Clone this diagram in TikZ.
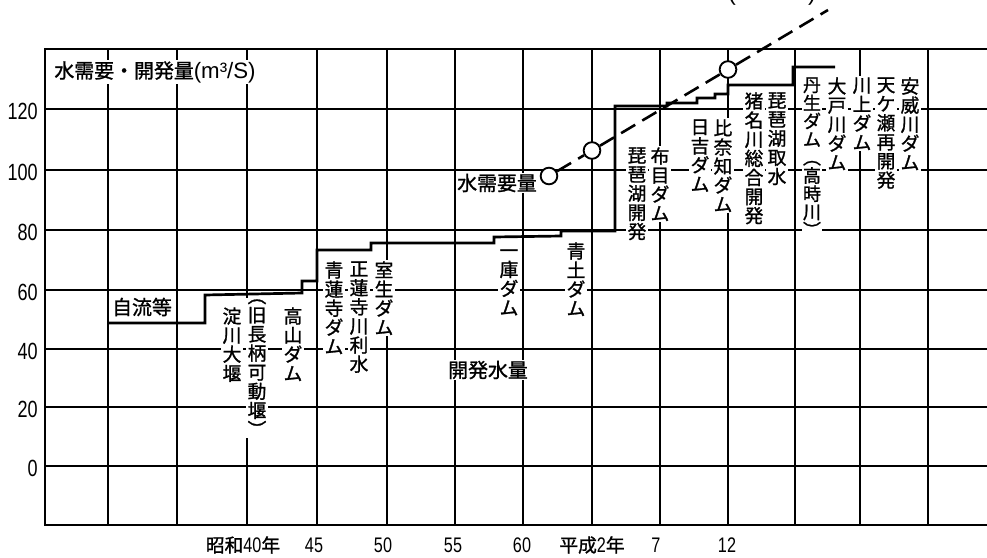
\documentclass[tikz,border=0pt]{standalone}
\usepackage{fontspec}
\setmainfont{Liberation Sans}
\newfontfamily\jp[FakeBold=1.2]{Noto Sans CJK JP}
\newfontfamily\num[FakeStretch=0.77]{Liberation Sans}
\begin{document}
\begin{tikzpicture}[x=0.03cm,y=-0.03cm,
  gridline/.style={line width=1.5pt},
  stepline/.style={line width=2.3pt, line join=miter},
  demand/.style={line width=2.2pt, dash pattern=on 14pt off 7pt},
  dot/.style={circle, draw, fill=white, line width=1.6pt, inner sep=0pt, minimum size=0.5cm},
  vlab/.style={anchor=north, align=center, fill=white, inner sep=1pt, font=\jp\fontsize{16pt}{16.3pt}\selectfont},
  hlab/.style={fill=white, inner sep=1pt, font=\jp\fontsize{17pt}{19pt}\selectfont},
  ylab/.style={anchor=east, inner sep=0pt, font=\num\fontsize{20pt}{22pt}\selectfont},
  xlab/.style={inner sep=0pt, font=\num\fontsize{18pt}{20pt}\selectfont},
  xjp/.style={inner sep=0pt, font=\jp\fontsize{16pt}{18pt}\selectfont}]
\useasboundingbox (0,0) rectangle (987,557);
\fill[white] (0,0) rectangle (987,557);
% frame and grid
\draw[gridline] (987,49) -- (45,49) -- (45,525) -- (987,525);
\foreach \y in {109,170,230,290,349,407,466} \draw[gridline] (45,\y) -- (987,\y);
\foreach \x in {108,177,247,317,387,455,523,592,660,728,795,860,928} \draw[gridline] (\x,49) -- (\x,525);
% y labels
\node[ylab] (y120) at (38,111) {120};
\node[ylab] (y100) at (38,172) {100};
\node[ylab] (y80) at (38,232) {80};
\node[ylab] (y60) at (38,292) {60};
\node[ylab] (y40) at (38,351) {40};
\node[ylab] (y20) at (38,409) {20};
\node[ylab] (y0) at (38,468) {0};
% x labels
\node[xjp] (xs40) at (243,545) {昭和{\num\fontsize{18pt}{20pt}\selectfont 40}年};
\node[xlab] (x45) at (314,545) {45};
\node[xlab] (x50) at (383,545) {50};
\node[xlab] (x55) at (453,545) {55};
\node[xlab] (x60) at (522,545) {60};
\node[xjp] (xh2) at (592,545) {平成{\num\fontsize{18pt}{20pt}\selectfont 2}年};
\node[xlab] (x7) at (656,545) {7};
\node[xlab] (x12) at (727,545) {12};
% partial label at the top edge
\node[anchor=base, inner sep=0pt, font=\fontsize{20pt}{22pt}\selectfont] (pl) at (732,0) {(};
\node[anchor=base, inner sep=0pt, font=\fontsize{20pt}{22pt}\selectfont] (pr) at (812,0) {)};
% horizontal labels
\node[hlab, anchor=west] (title) at (53,72) {水需要・開発量{\rmfamily\fontsize{19pt}{20pt}\selectfont (m³/S)}};
\node[hlab] (jiryu) at (142,307) {自流等};
\node[hlab] (juyo) at (497,183) {水需要量};
\node[hlab] (kaihatsu) at (488,370) {開発水量};
% vertical labels
\node[vlab] (yodo) at (232,306) {淀\\川\\大\\堰};
\node[vlab] (nagara) at (257,298) {︵\\旧\\長\\柄\\可\\動\\堰\\︶};
\node[vlab] (takayama) at (293,306) {高\\山\\ダ\\ム};
\node[vlab] (shorenji) at (334,260) {青\\蓮\\寺\\ダ\\ム};
\node[vlab] (shorenjigawa) at (359,260) {正\\蓮\\寺\\川\\利\\水};
\node[vlab] (muro) at (384,260) {室\\生\\ダ\\ム};
\node[vlab] (hitokura) at (509,248) {一\\庫\\ダ\\ム};
\node[vlab] (shodo) at (576,241) {青\\土\\ダ\\ム};
\node[vlab] (biwa1) at (637,146) {琵\\琶\\湖\\開\\発};
\node[vlab] (nunome) at (660,146) {布\\目\\ダ\\ム};
\node[vlab] (hiyoshi) at (700,118) {日\\吉\\ダ\\ム};
\node[vlab] (hinachi) at (723,118) {比\\奈\\知\\ダ\\ム};
\node[vlab] (inagawa) at (754,91) {猪\\名\\川\\総\\合\\開\\発};
\node[vlab] (biwa2) at (777,91) {琵\\琶\\湖\\取\\水};
\node[vlab, font=\jp\fontsize{15.4pt}{15.5pt}\selectfont] (nyu) at (812,76) {丹\\生\\ダ\\ム\\︵\\高\\時\\川\\︶};
\node[vlab] (daido) at (837,76) {大\\戸\\川\\ダ\\ム};
\node[vlab] (kawakami) at (862,76) {川\\上\\ダ\\ム};
\node[vlab] (amagase) at (886,76) {天\\ケ\\瀬\\再\\開\\発};
\node[vlab] (ai) at (910,76) {安\\威\\川\\ダ\\ム};
% development amount step line
\draw[stepline] (108,323) -- (205,323) -- (205,295) -- (302,293) -- (302,281) -- (317,281) -- (317,250) -- (371,250) -- (371,243) -- (494,243) -- (494,237) -- (561,236) -- (561,231) -- (615,231) -- (615,106) -- (667,106) -- (667,103) -- (697,103) -- (697,98) -- (715,98) -- (715,94) -- (728,94) -- (728,85) -- (793,85) -- (793,67) -- (835,67);
% water demand
\node[dot] (c1) at (549,176) {};
\node[dot] (c2) at (592,150.5) {};
\node[dot] (c3) at (728,69.5) {};
\coordinate (dend) at (828,10);
\draw[demand] (c1) -- (c2);
\draw[demand] (c2) -- (c3);
\draw[demand] (c3) -- (dend);
\end{tikzpicture}
\end{document}
